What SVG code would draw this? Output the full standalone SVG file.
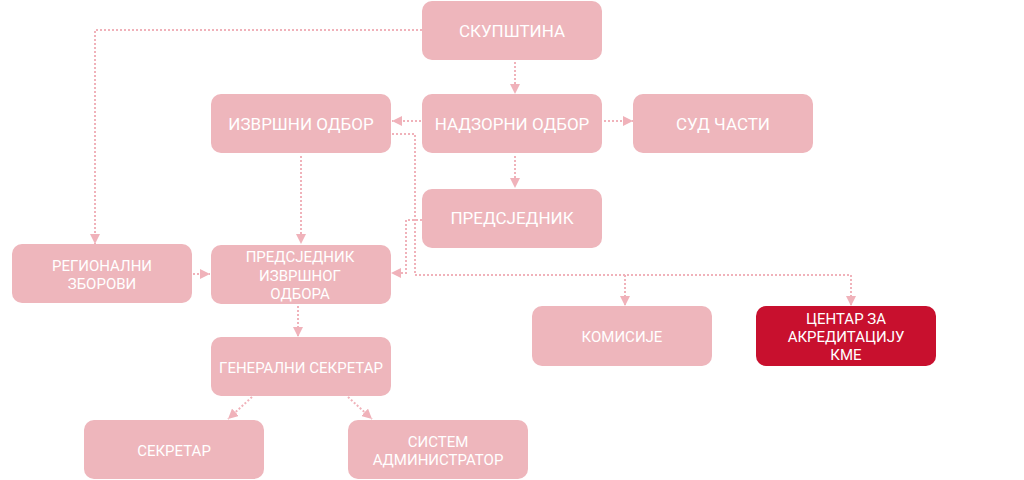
<svg xmlns="http://www.w3.org/2000/svg" width="1024" height="480" viewBox="0 0 1024 480">
<style>
.box{fill:#EEB6BC}
.dark{fill:#C8102E}
.t{fill:#FFFFFF;font-family:Roboto,"Liberation Sans",sans-serif;text-anchor:middle}
.l{font-size:17px}
.s{font-size:15px}
.c{fill:none;stroke:#F0B2BA;stroke-width:2;stroke-dasharray:2 2}
.a{marker-end:url(#arr)}
</style>
<defs>
<marker id="arr" viewBox="0 0 10 10" refX="10" refY="5" markerWidth="10" markerHeight="10" markerUnits="userSpaceOnUse" orient="auto">
<path d="M0,0 L10,5 L0,10 z" fill="#F0B2BA"/>
</marker>
</defs>
<g id="connectors">
<path class="c a" d="M422,30 H95 V244"/>
<path class="c a" d="M515,62 V94"/>
<path class="c a" d="M421,121 H392"/>
<path class="c a" d="M604,121 H633"/>
<path class="c a" d="M515,156 V188"/>
<path class="c a" d="M301,156 V244"/>
<path class="c a" d="M392,134 H415 V275 H851 V306"/>
<path class="c a" d="M625,275 V306"/>
<path class="c a" d="M422,220 H406 V273 H391"/>
<path class="c a" d="M193,274 H210"/>
<path class="c a" d="M298,306 V337"/>
<path class="c a" d="M252,397 L228,419"/>
<path class="c a" d="M348,397 L372,419"/>
</g>
<g id="skupstina"><rect class="box" x="422" y="1" width="180" height="59" rx="10"/><text class="t l" x="512" y="36.5">СКУПШТИНА</text></g>
<g id="izvrsni-odbor"><rect class="box" x="211" y="94" width="180" height="59" rx="10"/><text class="t l" x="301" y="130">ИЗВРШНИ ОДБОР</text></g>
<g id="nadzorni-odbor"><rect class="box" x="422" y="94" width="180" height="59" rx="10"/><text class="t l" x="512" y="130">НАДЗОРНИ ОДБОР</text></g>
<g id="sud-casti"><rect class="box" x="633" y="94" width="180" height="59" rx="10"/><text class="t l" x="723" y="130">СУД ЧАСТИ</text></g>
<g id="predsjednik"><rect class="box" x="422" y="189" width="180" height="59" rx="10"/><text class="t l" x="512" y="223.5">ПРЕДСЈЕДНИК</text></g>
<g id="regionalni-zborovi"><rect class="box" x="12" y="244" width="180" height="59" rx="10"/><text class="t s" x="102" y="271">РЕГИОНАЛНИ</text><text class="t s" x="102" y="289.3">ЗБОРОВИ</text></g>
<g id="predsjednik-io"><rect class="box" x="211" y="245" width="180" height="59" rx="10"/><text class="t s" x="300" y="262.3">ПРЕДСЈЕДНИК</text><text class="t s" x="300" y="280.7">ИЗВРШНОГ</text><text class="t s" x="300" y="299">ОДБОРА</text></g>
<g id="generalni-sekretar"><rect class="box" x="211" y="337" width="180" height="59" rx="10"/><text class="t s" x="301" y="373">ГЕНЕРАЛНИ СЕКРЕТАР</text></g>
<g id="komisije"><rect class="box" x="532" y="306" width="180" height="60" rx="10"/><text class="t s" x="622" y="342">КОМИСИЈЕ</text></g>
<g id="centar"><rect class="dark" x="756" y="306" width="180" height="60" rx="10"/><text class="t s" x="846" y="324.3">ЦЕНТАР ЗА</text><text class="t s" x="846" y="342">АКРЕДИТАЦИЈУ</text><text class="t s" x="846" y="360">КМЕ</text></g>
<g id="sekretar"><rect class="box" x="84" y="420" width="180" height="59" rx="10"/><text class="t s" x="174" y="456">СЕКРЕТАР</text></g>
<g id="sistem-administrator"><rect class="box" x="348" y="420" width="180" height="59" rx="10"/><text class="t s" x="438" y="446.7">СИСТЕМ</text><text class="t s" x="438" y="465">АДМИНИСТРАТОР</text></g>
</svg>
